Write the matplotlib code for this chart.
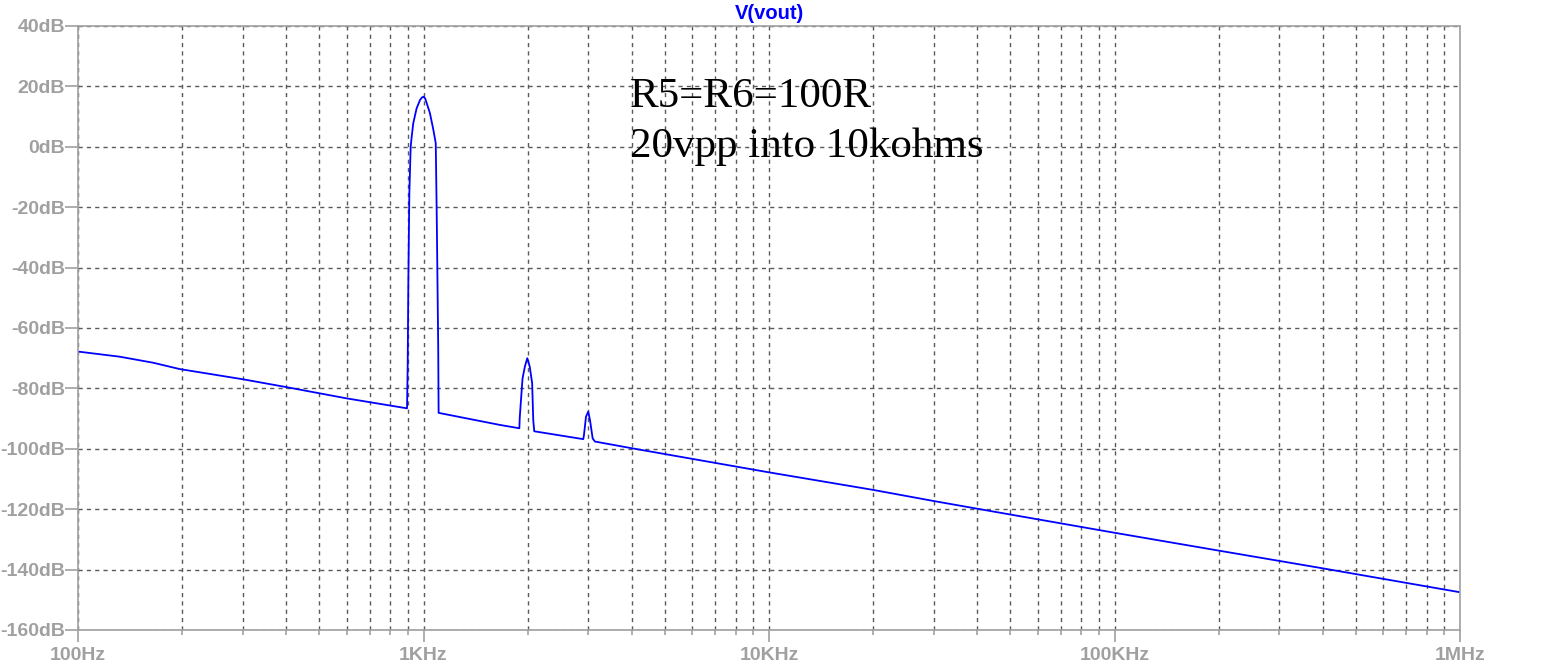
"""Recreate the LTspice style FFT plot of V(vout)."""

import matplotlib
matplotlib.use("Agg")
import matplotlib.pyplot as plt
from matplotlib.ticker import FixedLocator, LogLocator, NullFormatter

# spectrum (Hz, dB)
freq_hz = [
    100, 132, 165, 197, 301, 402, 599, 896,
    900, 904, 910, 918, 924, 934, 955, 977, 989, 1000, 1011, 1022, 1044, 1068, 1085,
    1092, 1103, 1106, 1457, 1665, 1894,
    1899, 1915, 1935, 1965, 1997, 2030, 2063, 2078, 2092, 2900,
    2914, 2953, 2998, 3033, 3088, 3136,
    4000, 10000, 20000, 30000, 40800, 100000, 200000, 397000, 1000000,
]
level_db = [
    -67.8, -69.5, -71.5, -73.6, -77.0, -79.6, -83.3, -86.6,
    -72.6, -44.1, -15.3, -0.1, 3.2, 7.8, 12.7, 15.5, 16.3, 16.6, 16.0, 14.4, 11.1, 5.6, 1.2,
    -21.9, -66.2, -88.1, -90.8, -92.1, -93.2,
    -89.8, -83.8, -76.7, -72.8, -70.0, -72.8, -78.3, -90.5, -94.2, -96.8,
    -95.4, -89.4, -87.7, -90.5, -96.6, -97.6,
    -99.8, -107.8, -113.6, -117.3, -120.0, -127.8, -133.7, -139.5, -147.5,
]

y_ticks = [-160, -140, -120, -100, -80, -60, -40, -20, 0, 20, 40]
x_ticks = [100, 1000, 10000, 100000, 1000000]
x_labels = ["100Hz", "1KHz", "10KHz", "100KHz", "1MHz"]
note_lines = ["R5=R6=100R", "20vpp into 10kohms"]

axis_gray = "#a0a0a0"
grid_gray = "#5a5a5a"

fig = plt.figure(figsize=(15.48, 6.68), dpi=100)
ax = fig.add_axes([78 / 1548, 1 - 630 / 668, (1460 - 78) / 1548, (630 - 26) / 668])

ax.plot(freq_hz, level_db, color="#0000ff", lw=1.3)

ax.set_xscale("log")
ax.set_xlim(100, 1e6)
ax.set_ylim(-160, 40)

ax.xaxis.set_major_locator(FixedLocator(x_ticks))
ax.set_xticklabels(x_labels)
ax.xaxis.set_minor_locator(LogLocator(base=10, subs=range(2, 10), numticks=20))
ax.xaxis.set_minor_formatter(NullFormatter())
ax.set_yticks(y_ticks)
ax.set_yticklabels([f"{v}dB" for v in y_ticks])

for spine in ax.spines.values():
    spine.set_color(axis_gray)
    spine.set_linewidth(1.2)

ax.tick_params(axis="y", which="major", length=9.4, width=1.2, color=axis_gray,
               pad=0, labelsize=14, labelcolor=axis_gray)
ax.tick_params(axis="x", which="major", length=8.6, width=1.2, color=axis_gray,
               pad=4, labelsize=14, labelcolor=axis_gray)
ax.tick_params(axis="x", which="minor", length=3.6, width=1.2, color=axis_gray)
for lbl in ax.get_xticklabels() + ax.get_yticklabels():
    lbl.set_fontweight("bold")
    lbl.set_fontfamily("Liberation Sans")

ax.grid(True, which="both", axis="x", color=grid_gray, linestyle=(0, (3, 3)), lw=1.0)
ax.grid(True, which="major", axis="y", color=grid_gray, linestyle=(0, (3, 3)), lw=1.0)
ax.set_axisbelow(True)

ax.set_title("V(vout)", color="#0000ff", fontsize=14.5, fontweight="bold",
             fontfamily="Liberation Sans", pad=5)

ax.text(630 / 1548, 1 - 107 / 668, note_lines[0], transform=fig.transFigure,
        fontsize=31, fontfamily="Liberation Serif", va="baseline", ha="left")
ax.text(630 / 1548, 1 - 157 / 668, note_lines[1], transform=fig.transFigure,
        fontsize=31, fontfamily="Liberation Serif", va="baseline", ha="left")

fig.savefig("out.png", dpi=100)
